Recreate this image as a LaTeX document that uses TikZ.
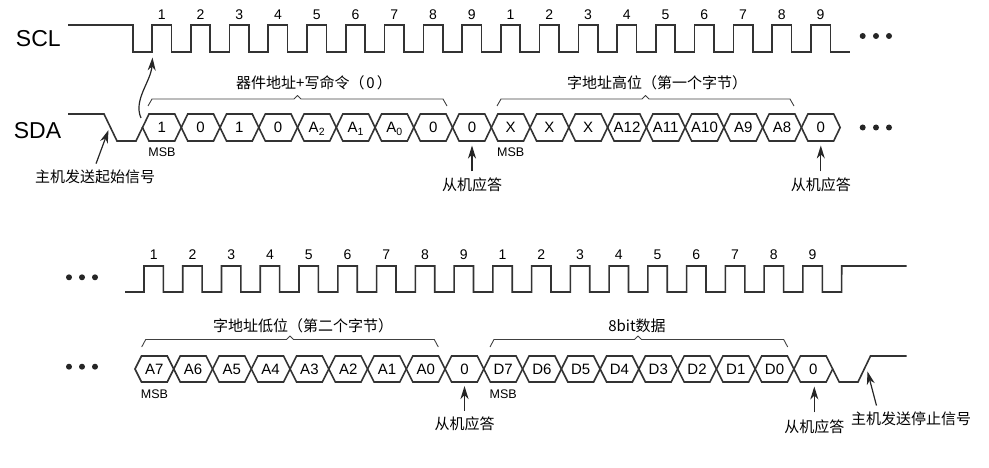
\documentclass[tikz,border=0pt]{standalone}
\usepackage{fontspec}
\setmainfont{Liberation Sans}
\newfontfamily\cjkfont{Noto Sans CJK SC}
\usetikzlibrary{arrows.meta}
\newcommand{\clkper}{38.76}

\begin{document}
\begin{tikzpicture}[x=1pt, y=-1pt,
    wire/.style={line width=1.6pt, black!80},
    bracket/.style={line width=0.9pt, black!75, line join=round},
    ackarrow/.style={line width=1.2pt, black!85, -{Stealth[length=13pt, width=8pt, inset=4pt]}},
    bitlbl/.style={font=\fontsize{15}{16}\selectfont, text height=10.7pt, text depth=0pt, inner sep=0pt},
    clknum/.style={font=\fontsize{14}{15}\selectfont, inner sep=0pt},
    msblbl/.style={font=\fontsize{12.5}{13}\selectfont, inner sep=0pt},
    signame/.style={font=\fontsize{23}{24}\selectfont, inner sep=0pt},
    cnote/.style={font=\cjkfont\fontsize{15}{17}\selectfont},
    bigdot/.style={circle, fill=black!85, inner sep=0pt, minimum size=6pt}]

            \useasboundingbox (0,0) rectangle (989,468);

            % Signal names
            \node[signame] (scl) at (38.3,39) {SCL};
            \node[signame] (sda) at (37.5,130.7) {SDA};

            % Draw the clock, first line
            \draw[wire] (68,25) -- (133,25) -- (133,52) -- (152,52)
              \foreach \k in {0,...,17} {
                -- ({152+\k*\clkper},25) -- ({171.4+\k*\clkper},25)
                -- ({171.4+\k*\clkper},52) -- ({152+(\k+1)*\clkper},52)};

            % Draw the clock, second line
            \draw[wire] (125,292) -- (144,292)
              \foreach \k in {0,...,17} {
                -- ({144+\k*\clkper},266) -- ({163.4+\k*\clkper},266)
                -- ({163.4+\k*\clkper},292) -- ({144+(\k+1)*\clkper},292)}
              -- (841.7,266) -- (906.7,266);

            % Clock numbers
            \foreach \k in {0,...,17} {
              \pgfmathtruncatemacro{\n}{mod(\k,9)+1}
              \node[clknum] (clka\k) at ({161.7+\k*\clkper},15) {\n};
              \node[clknum] (clkb\k) at ({153.7+\k*\clkper},255) {\n};
            }

            % Draw the data, first line (start condition)
            \draw[wire] (68,114) -- (104,114) -- (117,141) -- (136,141) -- (142.5,127.5);
            \foreach \lbl [count=\k from 0] in {1,0,1,0,A\textsubscript{2},A\textsubscript{1},A\textsubscript{0},0,0,X,X,X,A12,A11,A10,A9,A8,0} {
              \draw[wire] ({142.5+\k*\clkper},127.5) -- ++(6.5,-13.5) -- ++(25.76,0) -- ++(6.5,13.5)
                -- ++(-6.5,13.5) -- ++(-25.76,0) -- cycle;
              \node[bitlbl] (hexa\k) at ({161.88+\k*\clkper},127.5) {\lbl};
            }

            % Draw the data, second line (stop condition)
            \foreach \lbl [count=\k from 0] in {A7,A6,A5,A4,A3,A2,A1,A0,0,D7,D6,D5,D4,D3,D2,D1,D0,0} {
              \draw[wire] ({135+\k*\clkper},369) -- ++(6.5,-13) -- ++(25.76,0) -- ++(6.5,13)
                -- ++(-6.5,13) -- ++(-25.76,0) -- cycle;
              \node[bitlbl] (hexb\k) at ({154.38+\k*\clkper},369) {\lbl};
            }
            \draw[wire] (832.7,369) -- (839.2,382) -- (858,382) -- (870.5,356) -- (906.7,356);

            % MSB marks
            \node[msblbl] (msba) at (162,152) {MSB};
            \node[msblbl] (msbb) at (510.7,152) {MSB};
            \node[msblbl] (msbc) at (154.5,394) {MSB};
            \node[msblbl] (msbd) at (503.2,394) {MSB};

            % Draw the braces over the bytes
            \draw[bracket] (148,106) -- (152,99) -- (294,99) -- (297.5,95.5) -- (301,99) -- (443,99) -- (447,106);
            \draw[bracket] (497,106) -- (501,99) -- (642,99) -- (645.5,95.5) -- (649,99) -- (790,99) -- (794,106);
            \draw[bracket] (141.7,347) -- (145.7,339.5) -- (286.5,339.5) -- (290,336) -- (293.5,339.5) -- (434.3,339.5) -- (438.3,347);
            \draw[bracket] (490,347) -- (494,339.5) -- (634.5,339.5) -- (638,336) -- (641.5,339.5) -- (783.7,339.5) -- (787.7,347);

            \node[cnote] (devaddr) at (314,82.5) {器件地址+写命令（\hspace{2pt}0\hspace{2pt}）};
            \node[cnote] (wordhi) at (657,82.5) {字地址高位（第一个字节）};
            \node[cnote] (wordlo) at (303,325.5) {字地址低位（第二个字节）};
            \node[cnote] (databyte) at (637,325.5) {8bit数据};

            % Dots
            \foreach \x [count=\i] in {862.7,876,889} {
              \node[bigdot] (dota\i) at (\x,36) {};
              \node[bigdot] (dotb\i) at (\x,127.5) {};
            }
            \foreach \x [count=\i] in {69,82,95} {
              \node[bigdot] (dotc\i) at (\x,277.3) {};
              \node[bigdot] (dotd\i) at (\x,366.7) {};
            }

            % Start and stop conditions
            \node[cnote] (startlbl) at (95,177) {主机发送起始信号};
            \coordinate (fallpt) at (108.5,130);
            \draw[ackarrow, shorten <=3pt] (startlbl.north) -- (fallpt);

            \coordinate (sdarise) at (141,118);
            \coordinate (sclfall) at (152.5,57.5);
            \draw[ackarrow] (sdarise) .. controls +(-8,-18) and +(-1.5,24) .. (sclfall);

            \node[cnote] (stoplbl) at (911,419) {主机发送停止信号};
            \coordinate (stopfoot) at ([xshift=29pt,yshift=3pt]stoplbl.north west);
            \coordinate (risept) at (867.5,371.5);
            \draw[ackarrow] (stopfoot) -- (risept);

            % Slave acknowledge
            \node[cnote] (acka) at (472,185) {从机应答};
            \node[cnote] (ackb) at (820.8,185) {从机应答};
            \node[cnote] (ackc) at (464.5,423.5) {从机应答};
            \node[cnote] (ackd) at (814.3,427) {从机应答};
            \coordinate (ackpta) at (472,145.5);
            \coordinate (ackptb) at (820.8,145.5);
            \coordinate (ackptc) at (464.5,386);
            \coordinate (ackptd) at (814.3,386.5);
            \draw[ackarrow, shorten <=3pt] (acka.north) -- (ackpta);
            \draw[ackarrow, shorten <=3pt] (ackb.north) -- (ackptb);
            \draw[ackarrow, shorten <=2pt] (ackc.north) -- (ackptc);
            \draw[ackarrow, shorten <=4pt] (ackd.north) -- (ackptd);

\end{tikzpicture}
\end{document}
